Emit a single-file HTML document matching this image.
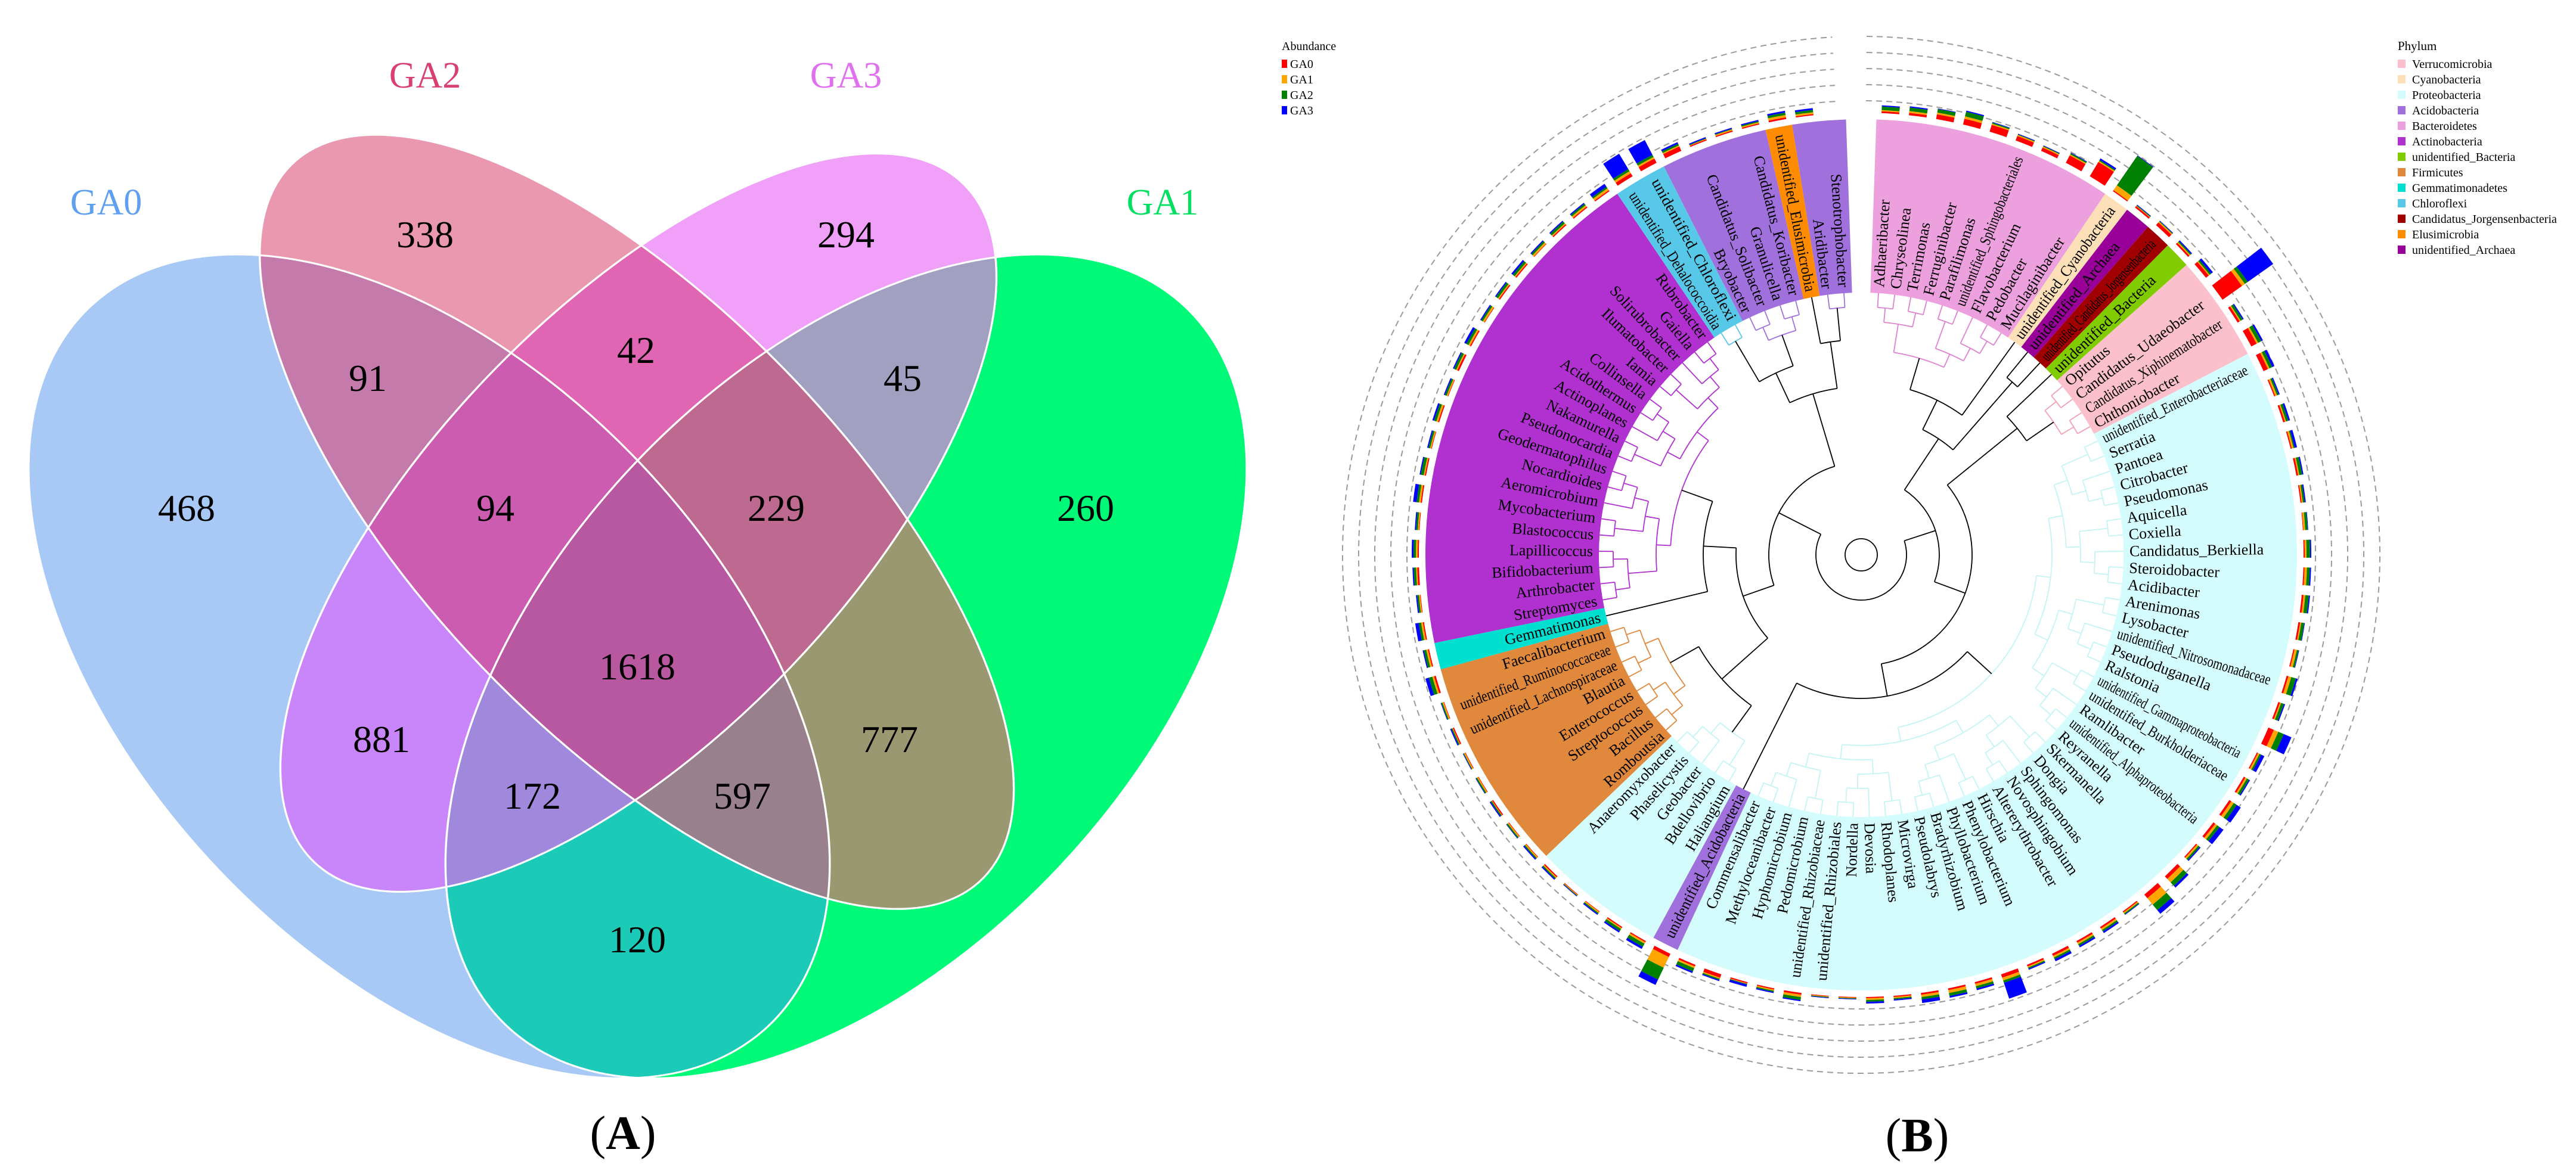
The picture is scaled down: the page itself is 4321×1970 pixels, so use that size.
<!DOCTYPE html>
<html><head><meta charset="utf-8">
<style>
html,body{margin:0;padding:0;background:#fff;}
svg{display:block;}
text{font-family:"Liberation Serif",serif;}
</style></head>
<body>
<svg id="fig" width="4321" height="1970" viewBox="0 0 4321 1970" xmlns="http://www.w3.org/2000/svg">
<defs>
 <clipPath id="c0"><ellipse cx="525" cy="890" rx="636" ry="372" transform="rotate(51.8 525 890)"/></clipPath>
 <clipPath id="c1"><ellipse cx="779" cy="697" rx="638" ry="270" transform="rotate(49.7 779 697)"/></clipPath>
 <clipPath id="c2"><ellipse cx="781" cy="698" rx="603" ry="267" transform="rotate(-50.05 781 698)"/></clipPath>
 <clipPath id="c3"><ellipse cx="1035" cy="890" rx="636" ry="372" transform="rotate(-51.8 1035 890)"/></clipPath>
</defs>
<g id="venn" transform="scale(1.3712,1.2564)"></g>
<g id="vennOutlines" transform="scale(1.3712,1.2564)" fill="none" stroke="#fff" stroke-width="2.5">
 <ellipse cx="525" cy="890" rx="636" ry="372" transform="rotate(51.8 525 890)"/>
 <ellipse cx="779" cy="697" rx="638" ry="270" transform="rotate(49.7 779 697)"/>
 <ellipse cx="781" cy="698" rx="603" ry="267" transform="rotate(-50.05 781 698)"/>
 <ellipse cx="1035" cy="890" rx="636" ry="372" transform="rotate(-51.8 1035 890)"/>
</g>
<g font-size="62" text-anchor="middle">
 <text x="178" y="360" fill="#5f9ff0">GA0</text>
 <text x="713" y="147" fill="#d84070">GA2</text>
 <text x="1419" y="147" fill="#e070f0">GA3</text>
 <text x="1950" y="360" fill="#00e060">GA1</text>
</g>
<g id="vennNums" font-size="64" text-anchor="middle" fill="#000"></g>
<text x="1045" y="1928" font-size="80" text-anchor="middle">(<tspan font-weight="bold">A</tspan>)</text>

<g id="tree"></g>
<g id="legends"></g>
<text x="3216" y="1932" font-size="80" text-anchor="middle">(<tspan font-weight="bold">B</tspan>)</text>
</svg>
<script>
const NS="http://www.w3.org/2000/svg";
function mk(tag,attrs,parent){const e=document.createElementNS(NS,tag);for(const k in attrs)e.setAttribute(k,attrs[k]);if(parent)parent.appendChild(e);return e;}

/* ---------- Venn ---------- */
const vennSubsets=[[0],[1],[2],[3],[0,1],[1,2],[2,3],[0,2],[1,3],[0,3],[0,1,2],[1,2,3],[0,2,3],[0,1,3],[0,1,2,3]];
const vennColors=["#a8c9f6","#ea98b0","#f0a0f8","#00fa78","#c47aaa","#e065b2","#a2a0c0","#c886fa","#9a9870","#1ccab8","#cc5cb0","#be6a90","#a088dc","#98808c","#b858a0"];
const vennCounts=["468","338","294","260","91","42","45","881","777","120","94","229","172","597","1618"];
const vennNumX=[313,713,1419,1821,617,1067,1514,640,1492,1069,831,1302,893,1245,1069];
const vennNumY=[874,415,415,874,656,609,656,1262,1262,1598,874,874,1357,1357,1140];
const venn=document.getElementById('venn');
vennSubsets.forEach((s,i)=>{
  let parent=venn;
  s.forEach(k=>{parent=mk('g',{'clip-path':'url(#c'+k+')'},parent);});
  const r=mk('rect',{x:0,y:0,width:1600,height:1600,fill:vennColors[i]},parent);
  
  
});
const vn=document.getElementById('vennNums');
vennCounts.forEach((c,i)=>{
  const t=mk('text',{x:vennNumX[i],y:vennNumY[i]},vn);
  
  
  t.textContent=c;
});

/* ---------- Tree ---------- */
const phyla=["Verrucomicrobia","Cyanobacteria","Proteobacteria","Acidobacteria","Bacteroidetes","Actinobacteria","unidentified_Bacteria","Firmicutes","Gemmatimonadetes","Chloroflexi","Candidatus_Jorgensenbacteria","Elusimicrobia","unidentified_Archaea"];
const phylaColors=["#fcc0cc","#fde0b8","#d4fcfc","#a070dc","#eda0de","#b030d0","#80cc00","#e0883c","#00e0d0","#58c8e8","#a00000","#ff8c00","#990099"];
const lineColors=["#f4a0b4","#f0c890","#c4f4f4","#a070dc","#e080d0","#b030d0","#80cc00","#e0883c","#00d0c0","#58c8e8","#a00000","#ff8c00","#990099"];
const genera=["Adhaeribacter","Chryseolinea","Terrimonas","Ferruginibacter","Parafilimonas","unidentified_Sphingobacteriales","Flavobacterium","Pedobacter","Mucilaginibacter",
"unidentified_Cyanobacteria","unidentified_Archaea","unidentified_Candidatus_Jorgensenbacteria","unidentified_Bacteria",
"Opitutus","Candidatus_Udaeobacter","Candidatus_Xiphinematobacter","Chthoniobacter",
"unidentified_Enterobacteriaceae","Serratia","Pantoea","Citrobacter","Pseudomonas","Aquicella","Coxiella","Candidatus_Berkiella","Steroidobacter","Acidibacter","Arenimonas","Lysobacter","unidentified_Nitrosomonadaceae","Pseudoduganella","Ralstonia","unidentified_Gammaproteobacteria","unidentified_Burkholderiaceae","Ramlibacter","unidentified_Alphaproteobacteria","Reyranella","Skermanella","Dongia","Sphingomonas","Novosphingobium","Altererythrobacter","Hirschia","Phenylobacterium","Phyllobacterium","Bradyrhizobium","Pseudolabrys","Microvirga","Rhodoplanes","Devosia","Nordella","unidentified_Rhizobiales","unidentified_Rhizobiaceae","Pedomicrobium","Hyphomicrobium","Methyloceanibacter","Commensalibacter",
"unidentified_Acidobacteria",
"Haliangium","Bdellovibrio","Geobacter","Phaselicystis","Anaeromyxobacter",
"Romboutsia","Bacillus","Streptococcus","Enterococcus","Blautia","unidentified_Lachnospiraceae","unidentified_Ruminococcaceae","Faecalibacterium",
"Gemmatimonas",
"Streptomyces","Arthrobacter","Bifidobacterium","Lapillicoccus","Blastococcus","Mycobacterium","Aeromicrobium","Nocardioides","Geodermatophilus","Pseudonocardia","Nakamurella","Actinoplanes","Acidothermus","Collinsella","Iamia","Ilumatobacter","Solirubrobacter","Gaiella","Rubrobacter",
"unidentified_Dehalococcoidia","unidentified_Chloroflexi",
"Bryobacter","Candidatus_Solibacter","Granulicella","Candidatus_Koribacter",
"unidentified_Elusimicrobia",
"Aridibacter","Stenotrophobacter"];
const generaPhylum=[4,4,4,4,4,4,4,4,4, 1,12,10,6, 0,0,0,0,
 2,2,2,2,2,2,2,2,2,2,2,2,2,2,2,2,2,2,2,2,2,2,2,2,2,2,2,2,2,2,2,2,2,2,2,2,2,2,2,2,
 3, 2,2,2,2,2, 7,7,7,7,7,7,7,7, 8,
 5,5,5,5,5,5,5,5,5,5,5,5,5,5,5,5,5,5,5, 9,9, 3,3,3,3, 11, 3,3];
const abGA0=[3,4,8,10,12,8,6,14,28,2,3,6,3,6,40,4,10,8,2,3,2,3,2,1,2,2,3,3,2,3,3,10,2,3,4,4,2,6,8,2,3,3,4,3,6,3,3,3,2,2,1,1,3,2,2,6,3,6,2,2,1,1,2,1,1,2,1,1,2,1,3,2,2,1,3,2,1,2,2,1,2,1,3,2,1,2,2,1,2,2,2,6,8,8,2,2,2,3,2];
const abGA1=[2,3,3,4,2,2,2,2,2,10,1,2,2,2,6,2,3,3,3,2,3,2,2,3,3,4,3,2,4,5,2,8,3,3,5,4,3,8,14,2,3,3,3,2,5,4,5,4,2,3,1,1,4,2,1,2,3,20,3,2,2,1,2,2,2,1,2,2,1,2,3,3,3,2,2,3,2,3,2,2,3,2,2,3,3,2,2,3,2,3,4,4,3,2,1,2,2,4,3];
const abGA2=[6,6,6,8,2,1,1,2,2,60,1,1,2,3,6,4,6,5,3,4,2,5,3,4,6,5,6,5,3,8,5,10,3,4,6,5,3,8,12,2,3,3,3,2,4,4,5,4,2,3,1,1,5,2,1,2,6,22,6,4,2,1,2,2,2,2,2,1,2,2,6,4,4,3,4,4,3,4,5,3,4,3,4,4,3,4,4,3,4,3,3,4,4,3,1,1,2,4,4];
const abGA3=[2,2,1,2,1,1,1,1,3,1,1,1,2,4,52,2,3,4,2,3,4,2,2,1,2,2,2,1,1,3,2,14,6,2,8,8,2,4,8,1,3,3,4,2,28,3,3,6,2,3,1,1,2,2,4,2,3,10,4,3,2,1,2,2,1,2,1,1,2,1,6,2,6,2,2,3,2,6,2,2,3,2,2,4,2,2,3,2,2,2,6,30,28,3,2,2,2,3,3];
const abColors=["#ff0000","#ffa500","#008000","#0000ff"];
const abNames=["GA0","GA1","GA2","GA3"];

const cx=3122, cy=931, R_IN=440, R_OUT=731, R_BAR=742;
const N=genera.length, A0=2, SPAN=356;
const step=SPAN/N;
function ang(i){return A0+(i+0.5)*step;}
function pol(r,d){const t=d*Math.PI/180;return [cx+r*Math.sin(t), cy-r*Math.cos(t)];}
function sector(r0,r1,a0,a1){
  const p0=pol(r1,a0),p1=pol(r1,a1),p2=pol(r0,a1),p3=pol(r0,a0);
  const lg=(a1-a0)>180?1:0;
  return `M${p0[0]},${p0[1]}A${r1},${r1} 0 ${lg} 1 ${p1[0]},${p1[1]}L${p2[0]},${p2[1]}A${r0},${r0} 0 ${lg} 0 ${p3[0]},${p3[1]}Z`;
}
function arc(r,a0,a1){
  const p0=pol(r,a0),p1=pol(r,a1);const lg=(a1-a0)>180?1:0;
  return `M${p0[0]},${p0[1]}A${r},${r} 0 ${lg} 1 ${p1[0]},${p1[1]}`;
}
const tree=document.getElementById('tree');

const gD=mk('g',{fill:'none',stroke:'#9a9a9a','stroke-width':2,'stroke-dasharray':'10 7'},tree);


[762,789,816,843,870].forEach(r=>{mk('path',{d:arc(r,0.6,356.8)},gD);});

const blocks=[];
generaPhylum.forEach((p,i)=>{if(!blocks.length||blocks[blocks.length-1].p!==p)blocks.push({p,lo:i,hi:i+1});else blocks[blocks.length-1].hi=i+1;});
const gW=mk('g',{},tree);


blocks.forEach(b=>{
  const w=mk('path',{d:sector(R_IN,R_OUT,A0+b.lo*step,A0+b.hi*step),fill:phylaColors[b.p]},gW);
  
  
});

const gT=mk('g',{fill:'none','stroke-width':1.8},tree);


function drawRad(a,r0,r1,col){const p=pol(r0,a),q=pol(r1,a);mk('path',{d:`M${p[0]},${p[1]}L${q[0]},${q[1]}`,stroke:col},gT);}
function combine(list,st,col,minR){
  if(list.length===1)return list[0];
  const m=list.length>>1;
  const L=combine(list.slice(0,m),st,col,minR),Rn=combine(list.slice(m),st,col,minR);
  const r=Math.max(minR,Math.min(L.r,Rn.r)-st);
  drawRad(L.a,r,L.r,col);drawRad(Rn.a,r,Rn.r,col);
  mk('path',{d:arc(r,L.a,Rn.a),stroke:col},gT);
  return {a:(L.a+Rn.a)/2,r};
}
const blockNodes=blocks.map(b=>{
  const leaves=[];for(let i=b.lo;i<b.hi;i++)leaves.push({a:ang(i),r:R_IN});
  return combine(leaves,24,lineColors[b.p],160);
});
const root=combine(blockNodes,55,'#000',28);
mk('circle',{cx:cx,cy:cy,r:27,stroke:'#000'},gT);

const gL=mk('g',{'font-size':26,fill:'#000'},tree);


const MAXLEN=268;
genera.forEach((g,i)=>{
  const a=ang(i);const p=pol(R_IN+10,a);
  const right=a<180;
  const t=mk('text',{x:p[0],y:p[1],'text-anchor':right?'start':'end','dominant-baseline':'central',transform:`rotate(${right?a-90:a+90} ${p[0]} ${p[1]})`},gL);
  
  
  t.textContent=g;
  const est=g.length*26*0.44;
  if(est>MAXLEN){t.setAttribute('textLength',MAXLEN);t.setAttribute('lengthAdjust','spacingAndGlyphs');}
});
mk('circle',{cx:cx,cy:cy,r:R_OUT+2,fill:'none',stroke:'#fff','stroke-width':3},tree);

const gB=mk('g',{},tree);


const series=[abGA0,abGA1,abGA2,abGA3];
const unit=1.0;
function rScale(v){return v*unit;}
genera.forEach((g,i)=>{
  let r=R_BAR;const a=ang(i);
  series.forEach((s,k)=>{
    const len=rScale(s[i]);
    const seg=mk('path',{d:sector(r,r+len,a-1.15,a+1.15),fill:abColors[k]},gB);
    
    
    r+=len;
  });
});

const lg=document.getElementById('legends');
const t1=mk('text',{x:2150,y:84,'font-size':20},lg);


t1.textContent='Abundance';
abNames.forEach((n,k)=>{
  const y=107+k*26;
  const s=mk('rect',{x:2150,y:y-7,width:9,height:14,fill:abColors[k]},lg);
  
  
  const t=mk('text',{x:2164,y:y+7,'font-size':20},lg);
  
  
  t.textContent=n;
});
const t2=mk('text',{x:4022,y:84,'font-size':21},lg);


t2.textContent='Phylum';
phyla.forEach((n,k)=>{
  const y=107+k*26;
  const s=mk('rect',{x:4022,y:y-7,width:13,height:14,fill:phylaColors[k]},lg);
  
  
  const t=mk('text',{x:4046,y:y+7,'font-size':20},lg);
  
  
  t.textContent=n;
});
</script>
</body></html>
